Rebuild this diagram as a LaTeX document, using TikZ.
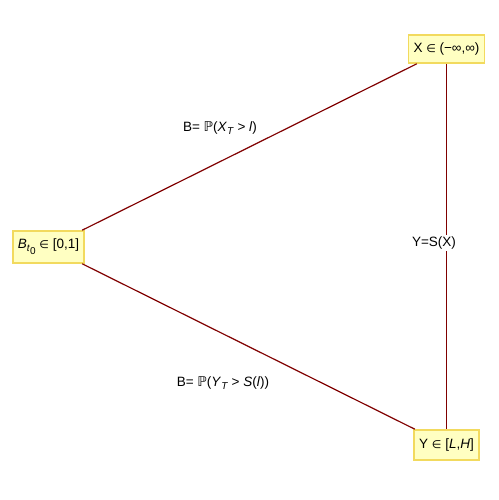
\documentclass[tikz,border=0pt]{standalone}
\usepackage{fontspec}
\setmainfont{Liberation Sans}
\newfontfamily\symfont{DejaVu Sans}
\usetikzlibrary{positioning}
\definecolor{edgered}{HTML}{800000}
\definecolor{boxfill}{HTML}{FFFFC2}
\definecolor{boxline}{HTML}{F2DA5E}
\newcommand{\elem}{{\symfont\fontsize{11}{11}\selectfont ∈}}
\newcommand{\sbs}[1]{\raisebox{-3pt}{\fontsize{10}{10}\selectfont #1}}

\begin{document}
\begin{tikzpicture}[x=1pt, y=-1pt,
    vbox/.style={draw=boxline, line width=1.6pt, fill=boxfill, font=\fontsize{13.5}{15}\selectfont,
                 inner xsep=5pt, minimum height=28pt},
    elabel/.style={font=\fontsize{13.5}{15}\selectfont, inner sep=2pt},
    conn/.style={-, line width=1.2pt, color=edgered}
]
\useasboundingbox (0,0) rectangle (498,500);

% --- vertices ---
\node[vbox] (xnode) at (446.5,49) {X \elem{} (−∞,∞)};
\node[vbox, minimum height=32pt] (bnode) at (48.5,247) {\textit{B}\sbs{\textit{t}\sbs{0}} \elem{} [0,1]};
\node[vbox, minimum height=30pt] (ynode) at (446.5,445) {Y \elem{} [\textit{L},\textit{H}]};

% --- edges ---
\draw[conn] (xnode) -- (bnode);
\draw[conn] (bnode) -- (ynode);
\draw[conn] (xnode) -- (ynode);

% --- edge labels ---
\node[elabel] (lab1) at (220,128) {B= {\symfont ℙ}(\textit{X}\sbs{\textit{T}} > \textit{l})};
\node[elabel] (lab2) at (223,383) {B= {\symfont ℙ}(\textit{Y}\sbs{\textit{T}} > \textit{S}(\textit{l}))};
\node[elabel, fill=white] (lab3) at (434,243) {Y=S(X)};

\end{tikzpicture}
\end{document}
